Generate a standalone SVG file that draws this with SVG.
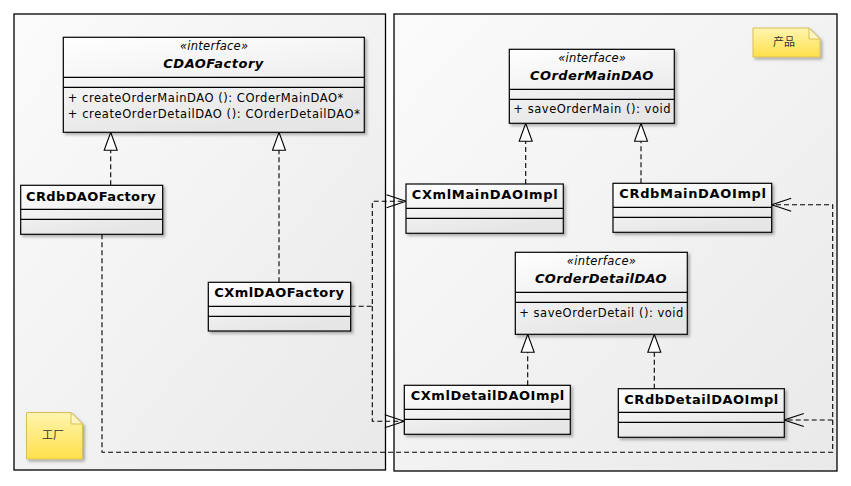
<svg xmlns="http://www.w3.org/2000/svg" width="851" height="486" viewBox="0 0 851 486">
<style>
.pkg{fill:url(#pkgGrad);stroke:#000;stroke-width:1.3}
.cls{fill:url(#clsGrad);stroke:#000;stroke-width:1.2;filter:url(#shadow)}
.sep{stroke:#000;stroke-width:1.2}
.name{font-family:"DejaVu Sans",Verdana,sans-serif;font-size:13px;font-weight:bold;fill:#000}
.iname{font-family:"DejaVu Sans",Verdana,sans-serif;font-size:13px;font-weight:bold;font-style:italic;fill:#000;text-anchor:middle}
.stereo{font-family:"DejaVu Sans",Verdana,sans-serif;font-size:11.5px;font-style:italic;fill:#000;text-anchor:middle}
.op{font-family:"DejaVu Sans",Verdana,sans-serif;font-size:11.5px;fill:#000}
.note{fill:url(#noteGrad);stroke:#d9bf5a;stroke-width:1;filter:url(#shadow)}
.fold{fill:#fff6c0;stroke:#d9bf5a;stroke-width:1}
.notetxt{font-family:"Noto Sans CJK SC",sans-serif;font-size:11px;fill:#333;text-anchor:middle}
.dash{fill:none;stroke:#000;stroke-width:1.1;stroke-dasharray:5,3}
.real{marker-end:url(#tri)}
.dep{marker-end:url(#open)}
</style>
<defs>
<linearGradient id="pkgGrad" x1="0" y1="0" x2="1" y2="1">
<stop offset="0" stop-color="#fbfbfb"/>
<stop offset="1" stop-color="#e9e9e9"/>
</linearGradient>
<linearGradient id="clsGrad" x1="0" y1="0" x2="0.4" y2="1">
<stop offset="0" stop-color="#ffffff"/>
<stop offset="1" stop-color="#e6e6e6"/>
</linearGradient>
<linearGradient id="noteGrad" x1="0" y1="0" x2="0" y2="1">
<stop offset="0" stop-color="#fff5b0"/>
<stop offset="1" stop-color="#ffe04a"/>
</linearGradient>
<filter id="shadow" x="-10%" y="-10%" width="130%" height="140%">
<feDropShadow dx="2" dy="2" stdDeviation="1.5" flood-color="#000" flood-opacity="0.3"/>
</filter>
<marker id="tri" markerUnits="userSpaceOnUse" markerWidth="20" markerHeight="16" viewBox="0 0 20 16" refX="19" refY="7.5" orient="auto">
<path d="M1,1 L19,7.5 L1,14 Z" fill="#fff" stroke="#000" stroke-width="1.1"/>
</marker>
<marker id="open" markerUnits="userSpaceOnUse" markerWidth="22" markerHeight="16" viewBox="0 0 22 16" refX="20.5" refY="8" orient="auto">
<path d="M1,1.5 L20.5,8 L1,14.5" fill="none" stroke="#000" stroke-width="1.1"/>
</marker>
</defs>

<g id="pkg-factory">
<rect class="pkg" x="14" y="14" width="371.5" height="456"/>
</g>
<g id="pkg-product">
<rect class="pkg" x="394" y="14" width="443" height="457"/>
</g>

<g id="note-product">
<path class="note" d="M753,28 H809 L820,39 V57 H753 Z"/>
<path class="fold" d="M809,28 V39 H820 Z"/>
<text class="notetxt" x="784" y="46">产品</text>
</g>
<g id="note-factory">
<path class="note" d="M26.5,412.5 H71 L82.5,424 V459 H26.5 Z"/>
<path class="fold" d="M71,412.5 V424 H82.5 Z"/>
<text class="notetxt" x="53" y="439">工厂</text>
</g>

<g id="connectors">
<path class="dash real" d="M110.7,185.3 V132.3"/>
<path class="dash real" d="M279,282.3 V132.3"/>
<path class="dash real" d="M525.7,184 V123.3"/>
<path class="dash real" d="M641,183.3 V123.3"/>
<path class="dash real" d="M527.7,385.3 V334.3"/>
<path class="dash real" d="M654.3,388.7 V334.3"/>
<path class="dash dep" d="M350.7,306.3 H372.3 V201.3 H406"/>
<path class="dash dep" d="M372.3,306.3 V421.3 H404.3"/>
<path class="dash dep" d="M102,234.3 V452.3 H832.7 V204.7 H771.7"/>
<path class="dash dep" d="M832.7,420 H784.3"/>
</g>

<g id="CDAOFactory">
<rect class="cls" x="63.3" y="37.3" width="301" height="95"/>
<line class="sep" x1="63.3" y1="77.3" x2="364.3" y2="77.3"/>
<line class="sep" x1="63.3" y1="87.3" x2="364.3" y2="87.3"/>
<text class="stereo" x="214" y="50" textLength="68">«interface»</text>
<text class="iname" x="213.3" y="67.5" textLength="100">CDAOFactory</text>
<text class="op" x="67.7" y="102" textLength="275.6">+ createOrderMainDAO (): COrderMainDAO*</text>
<text class="op" x="67.7" y="118" textLength="292.3">+ createOrderDetailDAO (): COrderDetailDAO*</text>
</g>

<g id="CRdbDAOFactory">
<rect class="cls" x="20.7" y="185.3" width="142" height="49"/>
<line class="sep" x1="20.7" y1="209.3" x2="162.7" y2="209.3"/>
<line class="sep" x1="20.7" y1="219.3" x2="162.7" y2="219.3"/>
<text class="name" x="26" y="200.5" textLength="129.7">CRdbDAOFactory</text>
</g>

<g id="CXmlDAOFactory">
<rect class="cls" x="208.3" y="282.3" width="142.4" height="48.7"/>
<line class="sep" x1="208.3" y1="306.3" x2="350.7" y2="306.3"/>
<line class="sep" x1="208.3" y1="316.3" x2="350.7" y2="316.3"/>
<text class="name" x="214.3" y="297" textLength="129.7">CXmlDAOFactory</text>
</g>

<g id="COrderMainDAO">
<rect class="cls" x="509.3" y="49.3" width="165" height="74"/>
<line class="sep" x1="509.3" y1="89.3" x2="674.3" y2="89.3"/>
<line class="sep" x1="509.3" y1="99.3" x2="674.3" y2="99.3"/>
<text class="stereo" x="592" y="62" textLength="67.7">«interface»</text>
<text class="iname" x="591.7" y="79.5" textLength="123.3">COrderMainDAO</text>
<text class="op" x="513.3" y="112.5" textLength="157.3">+ saveOrderMain (): void</text>
</g>

<g id="CXmlMainDAOImpl">
<rect class="cls" x="406" y="184" width="157.3" height="49.3"/>
<line class="sep" x1="406" y1="208.3" x2="563.3" y2="208.3"/>
<line class="sep" x1="406" y1="218.3" x2="563.3" y2="218.3"/>
<text class="name" x="411.7" y="198.5" textLength="146">CXmlMainDAOImpl</text>
</g>

<g id="CRdbMainDAOImpl">
<rect class="cls" x="613" y="183.3" width="158.7" height="49"/>
<line class="sep" x1="613" y1="207.3" x2="771.7" y2="207.3"/>
<line class="sep" x1="613" y1="217.3" x2="771.7" y2="217.3"/>
<text class="name" x="619.3" y="198" textLength="146.7">CRdbMainDAOImpl</text>
</g>

<g id="COrderDetailDAO">
<rect class="cls" x="515.3" y="252.3" width="172" height="82"/>
<line class="sep" x1="515.3" y1="292.3" x2="687.3" y2="292.3"/>
<line class="sep" x1="515.3" y1="302.3" x2="687.3" y2="302.3"/>
<text class="stereo" x="601.3" y="265" textLength="69.3">«interface»</text>
<text class="iname" x="600.8" y="282.5" textLength="131.7">COrderDetailDAO</text>
<text class="op" x="519.3" y="316.5" textLength="164">+ saveOrderDetail (): void</text>
</g>

<g id="CXmlDetailDAOImpl">
<rect class="cls" x="404.3" y="385.3" width="166" height="49"/>
<line class="sep" x1="404.3" y1="409.3" x2="570.3" y2="409.3"/>
<line class="sep" x1="404.3" y1="419.3" x2="570.3" y2="419.3"/>
<text class="name" x="410.7" y="399.5" textLength="153.6">CXmlDetailDAOImpl</text>
</g>

<g id="CRdbDetailDAOImpl">
<rect class="cls" x="618.3" y="388.7" width="166" height="48.6"/>
<line class="sep" x1="618.3" y1="412.3" x2="784.3" y2="412.3"/>
<line class="sep" x1="618.3" y1="422.3" x2="784.3" y2="422.3"/>
<text class="name" x="624.3" y="403.5" textLength="154">CRdbDetailDAOImpl</text>
</g>
</svg>
